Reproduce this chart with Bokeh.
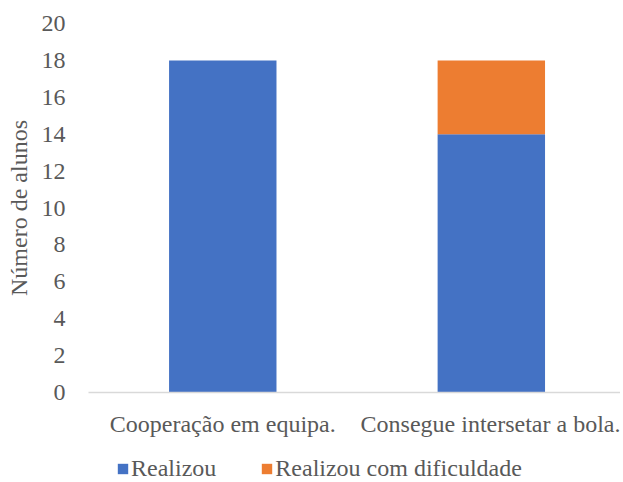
from bokeh.plotting import figure
from bokeh.layouts import column
from bokeh.models import Range1d, FixedTicker, Legend, LegendItem, ColumnDataSource
from bokeh.embed import file_html
from bokeh.resources import INLINE

categories = ["Cooperação em equipa.", "Consegue intersetar a bola."]
realizou = [18, 14]
com_dificuldade = [0, 4]
series_names = ["Realizou", "Realizou com dificuldade"]
colors = ["#4472C4", "#ED7D31"]
y_ticks = list(range(0, 21, 2))

xpos = [i + 0.5 for i in range(len(categories))]
src = ColumnDataSource(dict(
    x=xpos,
    r=realizou,
    d=com_dificuldade,
    top2=[a + b for a, b in zip(realizou, com_dificuldade)],
    zero=[0] * len(categories),
))

FONT = "Liberation Serif"
GREY = "#595959"
FS = "24px"
W = 620

p = figure(width=W, height=440, output_backend="svg", toolbar_location=None,
           x_range=Range1d(0, 1.981), y_range=Range1d(0, 20),
           min_border_left=88, min_border_top=23, min_border_right=0, min_border_bottom=48)
p.outline_line_color = None
p.xgrid.grid_line_color = None
p.ygrid.grid_line_color = None

v1 = p.vbar(x="x", width=0.4, bottom="zero", top="r", source=src, fill_color=colors[0], line_color=None)
v2 = p.vbar(x="x", width=0.4, bottom="r", top="top2", source=src, fill_color=colors[1], line_color=None)

p.xaxis.ticker = FixedTicker(ticks=xpos)
p.xaxis.major_label_overrides = {x: c for x, c in zip(xpos, categories)}
p.xaxis.major_tick_line_color = None
p.xaxis.minor_tick_line_color = None
p.xaxis.axis_line_color = "#D9D9D9"
p.xaxis.axis_line_width = 1.5
p.xaxis.major_label_text_font = FONT
p.xaxis.major_label_text_font_size = FS
p.xaxis.major_label_text_color = GREY
p.xaxis.major_label_standoff = 12

p.yaxis.ticker = FixedTicker(ticks=y_ticks)
p.yaxis.major_tick_line_color = None
p.yaxis.minor_tick_line_color = None
p.yaxis.axis_line_color = None
p.yaxis.major_label_text_font = FONT
p.yaxis.major_label_text_font_size = FS
p.yaxis.major_label_text_color = GREY
p.yaxis.major_label_standoff = 17
p.yaxis.axis_label = "Número de alunos"
p.yaxis.axis_label_text_font = FONT
p.yaxis.axis_label_text_font_size = FS
p.yaxis.axis_label_text_font_style = "normal"
p.yaxis.axis_label_text_color = GREY
p.yaxis.axis_label_standoff = 7

# legend strip (legend-only renderers placed off-screen)
lg = figure(width=W, height=42, output_backend="svg", toolbar_location=None,
            x_range=Range1d(0, 1), y_range=Range1d(0, 1),
            min_border_left=88, min_border_top=0, min_border_right=0, min_border_bottom=0)
lg.axis.visible = False
lg.grid.visible = False
lg.outline_line_color = None
dummy = ColumnDataSource(dict(x=[-10.0], top=[0.0]))
r1 = lg.vbar(x="x", top="top", width=0.1, source=dummy, fill_color=colors[0], line_color=None)
r2 = lg.vbar(x="x", top="top", width=0.1, source=dummy, fill_color=colors[1], line_color=None)

legend = Legend(items=[LegendItem(label=series_names[0], renderers=[r1]),
                       LegendItem(label=series_names[1], renderers=[r2])],
                orientation="horizontal", location=(28, 0),
                label_text_font=FONT, label_text_font_size=FS, label_text_color=GREY,
                glyph_width=13, glyph_height=13, spacing=44, label_standoff=2,
                border_line_color=None, background_fill_alpha=0, padding=0, margin=0)
lg.add_layout(legend, "center")

layout = column(p, lg, spacing=0)
open("out.html", "w").write(file_html(layout, INLINE))
